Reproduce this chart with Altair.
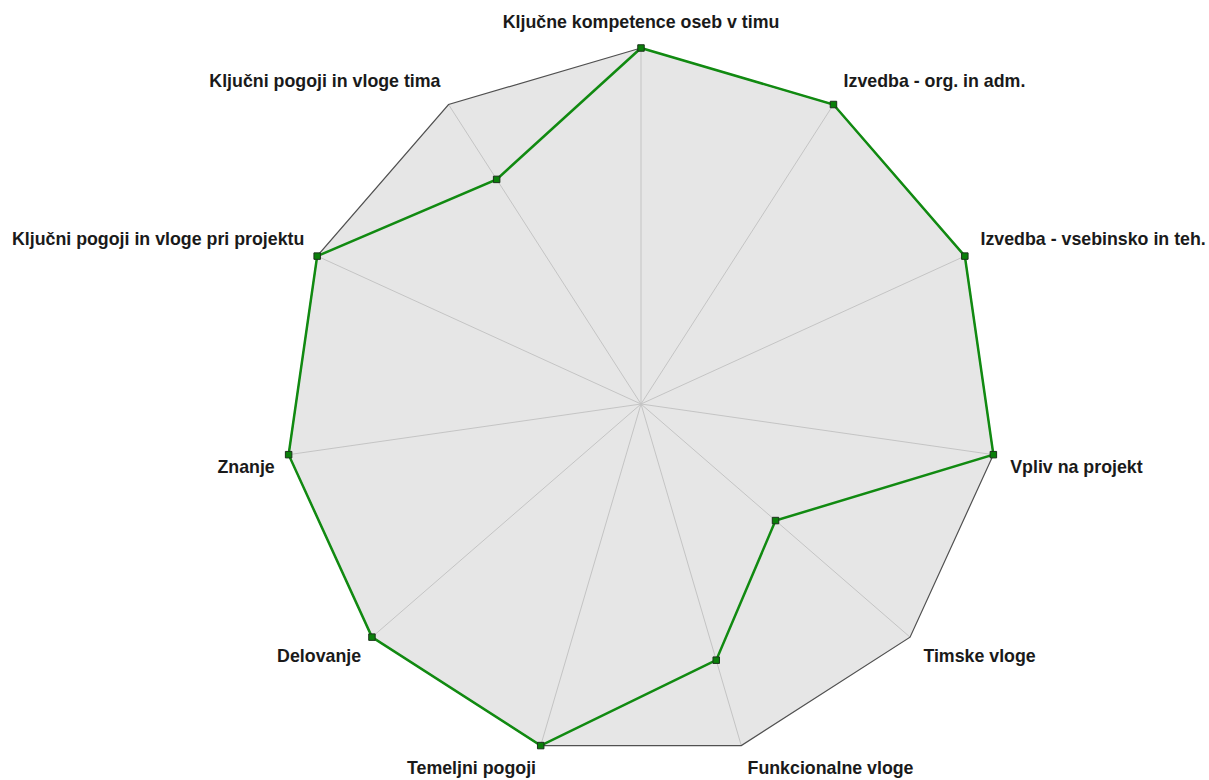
import altair as alt
import pandas as pd

# Radar axes, clockwise from the top
categories = [
    "Ključne kompetence oseb v timu",
    "Izvedba - org. in adm.",
    "Izvedba - vsebinsko in teh.",
    "Vpliv na projekt",
    "Timske vloge",
    "Funkcionalne vloge",
    "Temeljni pogoji",
    "Delovanje",
    "Znanje",
    "Ključni pogoji in vloge pri projektu",
    "Ključni pogoji in vloge tima",
]
values = [4, 4, 4, 4, 2, 3, 4, 4, 4, 4, 3]
scale_max = 4

n = len(categories)
W, H = 1209, 780
CX, CY = 641, 404          # centre of the web, in pixels
R_PX = 356                 # pixel radius of the outer ring
U = R_PX / scale_max       # pixels per value unit

# Closed ring: the first axis is repeated at the end to close the polygon
rows = []
for i, (c, v) in enumerate(zip(categories, values)):
    rows.append({"category": c, "value": v, "idx": i, "order": i})
rows.append({"category": categories[0], "value": values[0], "idx": 0, "order": n})
df = pd.DataFrame(rows)

x_scale = alt.Scale(domain=[-CX / U, (W - CX) / U], nice=False, zero=False)
y_scale = alt.Scale(domain=[-(H - CY) / U, CY / U], nice=False, zero=False)

base = alt.Chart(df).transform_calculate(
    ang=f"datum.idx * 2 * PI / {n}",
).transform_calculate(
    x="datum.value * sin(datum.ang)",
    y="datum.value * cos(datum.ang)",
    ox=f"{scale_max} * sin(datum.ang)",
    oy=f"{scale_max} * cos(datum.ang)",
    zero="0",
)

X = lambda f: alt.X(f"{f}:Q", scale=x_scale, axis=None)
Y = lambda f: alt.Y(f"{f}:Q", scale=y_scale, axis=None)

# Grey background polygon
web_fill = base.mark_line(
    fill="#e6e6e6", stroke="#e6e6e6", strokeWidth=0, interpolate="linear"
).encode(x=X("ox"), y=Y("oy"), order="order:O")

# Spokes from the centre to each vertex
spokes = base.transform_filter("datum.order < %d" % n).mark_rule(
    color="#c4c4c4", strokeWidth=1
).encode(x=X("zero"), y=Y("zero"), x2="ox:Q", y2="oy:Q")

# Dark outline of the outer ring
web_outline = base.mark_line(
    stroke="#505050", strokeWidth=1.2, interpolate="linear"
).encode(x=X("ox"), y=Y("oy"), order="order:O")

# Data series
series = base.mark_line(
    color="#118a11", strokeWidth=2.5, interpolate="linear"
).encode(x=X("x"), y=Y("y"), order="order:O")

points = base.transform_filter("datum.order < %d" % n).mark_square(
    size=42, fill="#0a800a", stroke="#1c331c", strokeWidth=1, opacity=1
).encode(x=X("x"), y=Y("y"))

# Axis labels, offset outward from each vertex (offsets in pixels)
labels_base = base.transform_filter("datum.order < %d" % n).transform_calculate(
    s="sin(datum.ang)",
    c="cos(datum.ang)",
).transform_calculate(
    lx=f"datum.ox + (datum.s > 0.01 ? (2 + 15 * datum.s) : (datum.s < -0.01 ? (-1 + 13 * datum.s) : 0)) / {U}",
    ly=f"datum.oy + (datum.c > 0 ? (4.5 + 15.5 * datum.c) : -(17 - 11.5 * datum.c)) / {U}",
)

label_style = dict(
    font="Liberation Sans", fontSize=17.8, fontWeight="bold",
    color="#1a1a1a", baseline="alphabetic",
)

labels_center = labels_base.transform_filter("abs(datum.s) <= 0.01").mark_text(
    align="center", **label_style
).encode(x=X("lx"), y=Y("ly"), text="category:N")
labels_right = labels_base.transform_filter("datum.s > 0.01").mark_text(
    align="left", **label_style
).encode(x=X("lx"), y=Y("ly"), text="category:N")
labels_left = labels_base.transform_filter("datum.s < -0.01").mark_text(
    align="right", **label_style
).encode(x=X("lx"), y=Y("ly"), text="category:N")

chart = alt.layer(
    web_fill, spokes, web_outline, series, points,
    labels_center, labels_right, labels_left,
).properties(
    width=W, height=H,
    autosize=alt.AutoSizeParams(type="none"),
    padding=0,
    background="white",
).configure_view(stroke=None)

chart.save("out.html", embed_options={"renderer": "svg", "actions": False})
